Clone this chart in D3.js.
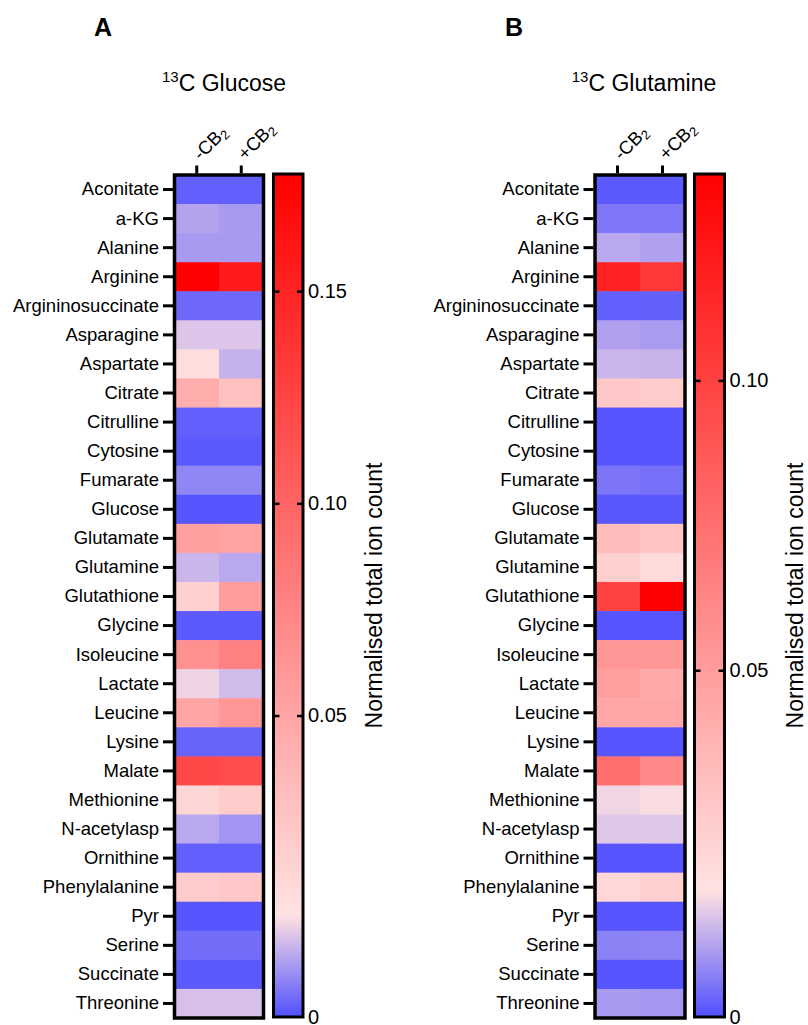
<!DOCTYPE html>
<html>
<head>
<meta charset="utf-8">
<script src="https://cdn.jsdelivr.net/npm/d3@7"></script>
<style>
  body { margin: 0; background: #fff; }
  svg { font-family: "Liberation Sans", Arial, sans-serif; }
</style>
</head>
<body>
<svg id="chart" width="808" height="1025"></svg>
<script>
// Row labels (metabolites), top to bottom
const metabolites = ['Aconitate', 'a-KG', 'Alanine', 'Arginine', 'Argininosuccinate', 'Asparagine',
    'Aspartate', 'Citrate', 'Citrulline', 'Cytosine', 'Fumarate', 'Glucose', 'Glutamate', 'Glutamine',
    'Glutathione', 'Glycine', 'Isoleucine', 'Lactate', 'Leucine', 'Lysine', 'Malate', 'Methionine',
    'N-acetylasp', 'Ornithine', 'Phenylalanine', 'Pyr', 'Serine', 'Succinate', 'Threonine'];

const conditions = ['-CB', '+CB'];

// 13C glucose, normalised total ion count
const glucoseMinus = [0.0003, 0.0017, 0.0015, 0.178, 0.0005, 0.0024, 0.0065, 0.044, 0.0003, 0.0002,
    0.0011, 0.0001, 0.054, 0.0021, 0.017, 0.0002, 0.066, 0.0027, 0.050, 0.0004, 0.122, 0.012,
    0.0018, 0.0003, 0.021, 0.0001, 0.0006, 0.0002, 0.0023];
const glucosePlus = [0.0003, 0.0015, 0.0015, 0.157, 0.0005, 0.0024, 0.0020, 0.029, 0.0003, 0.0002,
    0.0011, 0.0001, 0.052, 0.0018, 0.057, 0.0002, 0.078, 0.0022, 0.062, 0.0004, 0.118, 0.020,
    0.0014, 0.0003, 0.024, 0.0001, 0.0006, 0.0002, 0.0023];

// 13C glutamine, normalised total ion count
const glutamineMinus = [0.0008, 0.0032, 0.0072, 0.117, 0.0012, 0.0066, 0.0084, 0.027, 0.0005, 0.0005,
    0.0030, 0.0006, 0.033, 0.022, 0.099, 0.0005, 0.053, 0.049, 0.045, 0.0005, 0.076, 0.011,
    0.0098, 0.0005, 0.018, 0.0005, 0.0040, 0.0005, 0.0060];
const glutaminePlus = [0.0008, 0.0032, 0.0066, 0.105, 0.0013, 0.0062, 0.0082, 0.024, 0.0005, 0.0005,
    0.0026, 0.0006, 0.028, 0.016, 0.1356, 0.0005, 0.053, 0.042, 0.045, 0.0005, 0.061, 0.0116,
    0.0098, 0.0005, 0.022, 0.0005, 0.0042, 0.0005, 0.0058];

// colour bar ticks
const glucoseTicks = [0, 0.05, 0.10, 0.15];
const glutamineTicks = [0, 0.05, 0.10];

// colour scale: min, mid (white), max
const glucoseScale = [0, 0.003, 0.1776];
const glutamineScale = [0, 0.012, 0.1356];

const colours = ['#5050ff', '#ffe2e2', '#ff0000'];

const svg = d3.select('#chart');
const top0 = 175, bottom0 = 1018;

function drawPanel(opt) {
    let g = svg.append('g');

    // panel letter
    g.append('text')
        .attr('x', opt.letterX)
        .attr('y', 36)
        .attr('font-size', 25)
        .attr('font-weight', 'bold')
        .text(opt.letter);

    // title with superscript
    let title = g.append('text')
        .attr('x', opt.titleX)
        .attr('y', 91)
        .attr('font-size', 23)
        .attr('text-anchor', 'middle');
    title.append('tspan').attr('font-size', 15).attr('dy', -9).text('13');
    title.append('tspan').attr('dy', 9).text('C ' + opt.title);

    let y = d3.scaleBand().domain(metabolites).range([top0, bottom0]);
    let x = d3.scaleBand().domain(conditions).range([opt.heatX, opt.heatX + opt.heatW]);

    let color = d3.scaleLinear()
        .domain(opt.scale)
        .range(colours)
        .interpolate(d3.interpolateRgb)
        .clamp(true);

    // cells
    let cells = [];
    metabolites.forEach((m, i) => {
        cells.push({m: m, c: conditions[0], v: opt.values[0][i]});
        cells.push({m: m, c: conditions[1], v: opt.values[1][i]});
    });
    g.append('g').selectAll('rect')
        .data(cells)
        .enter().append('rect')
        .attr('x', d => x(d.c))
        .attr('y', d => y(d.m))
        .attr('width', x.bandwidth() + 0.5)
        .attr('height', y.bandwidth() + 0.5)
        .attr('fill', d => color(d.v));

    // border
    g.append('rect')
        .attr('x', opt.heatX)
        .attr('y', top0)
        .attr('width', opt.heatW)
        .attr('height', bottom0 - top0)
        .style('fill', 'none')
        .style('stroke', '#000')
        .style('stroke-width', 3.5);

    // row axis
    let yAxis = g.append('g')
        .attr('transform', 'translate(' + (opt.heatX - 1.5) + ',0)')
        .call(d3.axisLeft(y).tickSize(10).tickPadding(4));
    yAxis.select('.domain').remove();
    yAxis.selectAll('line').style('stroke-width', 3);
    yAxis.selectAll('text')
        .attr('font-size', 18.5)
        .attr('font-family', '"Liberation Sans", Arial, sans-serif')
        .attr('fill', '#000');

    // column axis
    let xAxis = g.append('g')
        .attr('transform', 'translate(0,' + (top0 - 1.5) + ')')
        .call(d3.axisTop(x).tickSize(8).tickFormat(''));
    xAxis.select('.domain').remove();
    xAxis.selectAll('line').style('stroke-width', 3);

    g.append('g').selectAll('text')
        .data(conditions)
        .enter().append('text')
        .attr('transform', d => 'translate(' + (x(d) + x.bandwidth() / 2 + 4) + ',' + (top0 - 14) + ') rotate(-45)')
        .attr('font-size', 18.5)
        .each(function(d) {
            let t = d3.select(this);
            t.append('tspan').text(d);
            t.append('tspan').attr('font-size', 13).attr('dy', 3).text('2');
        });

    // colour bar
    let barTop = top0 - 1, barBottom = bottom0 - 1;
    let barH = barBottom - barTop;
    let yBar = d3.scaleLinear()
        .domain(opt.scale)
        .range([barBottom, barBottom - opt.lowFrac * barH, barTop]);

    let gradId = 'grad' + opt.letter;
    let grad = svg.append('defs').append('linearGradient')
        .attr('id', gradId)
        .attr('x1', 0).attr('y1', 1).attr('x2', 0).attr('y2', 0);
    opt.scale.forEach(v => {
        grad.append('stop')
            .attr('offset', (barBottom - yBar(v)) / barH)
            .attr('stop-color', color(v));
    });

    g.append('rect')
        .attr('x', opt.barX)
        .attr('y', barTop)
        .attr('width', opt.barW)
        .attr('height', barH)
        .style('fill', 'url(#' + gradId + ')')
        .style('stroke', '#000')
        .style('stroke-width', 3);

    let barAxis = g.append('g')
        .attr('transform', 'translate(' + (opt.barX + opt.barW) + ',0)')
        .call(d3.axisRight(yBar).tickValues(opt.ticks).tickSize(-6).tickPadding(5)
            .tickFormat(d => d === 0 ? '0' : d3.format('.2f')(d)));
    barAxis.select('.domain').remove();
    barAxis.selectAll('line').style('stroke-width', 2.5);
    barAxis.selectAll('text')
        .attr('font-size', 20)
        .attr('font-family', '"Liberation Sans", Arial, sans-serif')
        .attr('fill', '#000');
    barAxis.selectAll('.tick').filter(d => d === 0).select('line').remove();

    let barAxisL = g.append('g')
        .attr('transform', 'translate(' + opt.barX + ',0)')
        .call(d3.axisLeft(yBar).tickValues(opt.ticks.filter(d => d > 0)).tickSize(-6).tickFormat(''));
    barAxisL.select('.domain').remove();
    barAxisL.selectAll('line').style('stroke-width', 2.5);

    // colour bar title
    g.append('text')
        .attr('transform', 'translate(' + opt.axisTitleX + ',' + ((barTop + barBottom) / 2) + ') rotate(-90)')
        .attr('text-anchor', 'middle')
        .attr('font-size', 23)
        .text('Normalised total ion count');
}

drawPanel({
    letter: 'A', letterX: 94,
    title: 'Glucose', titleX: 224,
    heatX: 174.5, heatW: 89,
    barX: 273.5, barW: 29.5,
    values: [glucoseMinus, glucosePlus],
    scale: glucoseScale, lowFrac: 0.121,
    ticks: glucoseTicks,
    axisTitleX: 382
});

drawPanel({
    letter: 'B', letterX: 505,
    title: 'Glutamine', titleX: 644,
    heatX: 595, heatW: 90,
    barX: 694.5, barW: 30,
    values: [glutamineMinus, glutaminePlus],
    scale: glutamineScale, lowFrac: 0.15,
    ticks: glutamineTicks,
    axisTitleX: 803
});
</script>
</body>
</html>
